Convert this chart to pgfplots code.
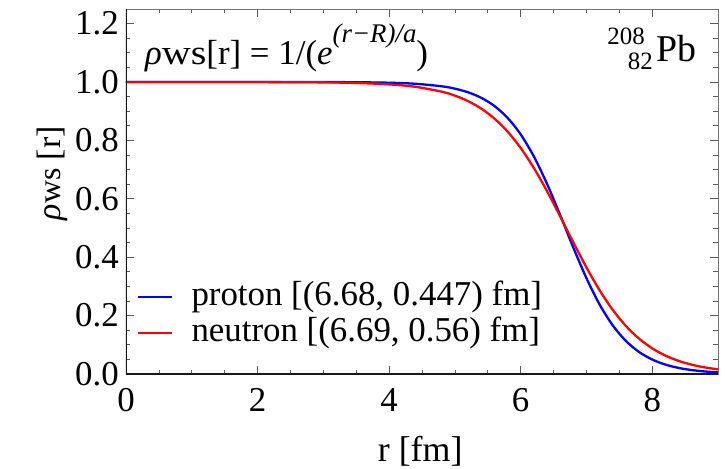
\documentclass[border=0pt]{standalone}
\usepackage{fontspec}
\setmainfont{Liberation Serif}
\usepackage{pgfplots}
\pgfplotsset{compat=1.18}
\usepackage{pgfplotstable}

\pgfplotstableread{
r rho
0.0 1.00000
1.0 1.00000
2.0 0.99997
3.0 0.99973
3.5 0.99919
4.0 0.99752
4.4 0.99395
4.8 0.98531
5.0 0.97722
5.2 0.96480
5.4 0.94602
5.6 0.91806
5.8 0.87748
6.0 0.82073
6.2 0.74533
6.4 0.65166
6.6 0.54463
6.8 0.43329
7.0 0.32830
7.2 0.23806
7.4 0.16648
7.6 0.11323
7.8 0.07547
8.0 0.04959
8.2 0.03228
8.4 0.02088
8.6 0.01345
8.8 0.00864
9.0 0.00554
}\proton

\pgfplotstableread{
r rho
0.0 0.99999
1.0 0.99996
2.0 0.99977
3.0 0.99863
3.5 0.99665
4.0 0.99187
4.4 0.98352
4.8 0.96691
5.0 0.95338
5.2 0.93467
5.4 0.90917
5.6 0.87505
5.8 0.83052
6.0 0.77419
6.2 0.70579
6.4 0.62665
6.6 0.54009
6.8 0.45105
7.0 0.36504
7.2 0.28685
7.4 0.21962
7.6 0.16452
7.8 0.12109
8.0 0.08792
8.2 0.06318
8.4 0.04506
8.6 0.03196
8.8 0.02258
9.0 0.01591
}\neutron

\begin{document}
\begin{tikzpicture}
\begin{axis}[
  scale only axis, width=592bp, height=365bp,
  xmin=0, xmax=9, ymin=0, ymax=1.25,
  xtick={0,2,4,6,8}, ytick={0,0.2,0.4,0.6,0.8,1.0,1.2},
  minor x tick num=3, minor y tick num=3,
  tick align=inside, major tick length=8bp, minor tick length=4.5bp,
  every tick/.style={black!65, line width=0.7bp},
  axis line style={black!55, line width=0.8bp},
  /pgf/number format/assume math mode=true,
  tick label style={font=\fontsize{35}{35}\selectfont, inner sep=0pt},
  yticklabel style={/pgf/number format/fixed, /pgf/number format/fixed zerofill, /pgf/number format/precision=1, xshift=-7bp},
  xticklabel style={yshift=-14bp},
  xlabel={r [fm]},
  xlabel style={at={(rel axis cs:0.497,-0.24)}, anchor=base, font=\fontsize{36}{36}\selectfont, inner sep=0pt},
  ylabel={{\itshape ρ}{\fontsize{32}{32}\selectfont ws} [r]},
  ylabel style={at={(rel axis cs:-0.11,0.55)}, anchor=base, font=\fontsize{34}{34}\selectfont, inner sep=0pt},
  legend style={draw=none, fill=none, inner sep=0pt, at={(rel axis cs:0.0186,0.26)}, anchor=north west,
    font=\fontsize{35}{35}\selectfont,
    nodes={text height=24bp, text depth=8bp, inner ysep=2bp, inner xsep=0pt}},
  legend cell align=left,
  legend image code/.code={\draw[#1] (0bp,0bp) -- (34bp,0bp); \path (52bp,0bp);},
]
\addplot[blue, line width=2.3bp, smooth] table[x=r, y=rho] {\proton};
\addlegendentry{proton [(6.68, 0.447) fm]}
\addplot[red, line width=2.3bp, smooth] table[x=r, y=rho] {\neutron};
\addlegendentry{neutron [(6.69, 0.56) fm]}
\draw[black!90, line width=1.8bp] (rel axis cs:0,1) -- (rel axis cs:0,0) -- (rel axis cs:1,0);
\node[anchor=base west, inner sep=0pt, font=\fontsize{35}{35}\selectfont] at (rel axis cs:0.032,0.8466)
  {{\itshape ρ}\scalebox{1.15}[1]{ws}[r] = 1/({\itshape e}\raisebox{0.65em}{\fontsize{27}{27}\selectfont\itshape (r−R)/a})};
\node[anchor=base east, inner sep=0pt, font=\fontsize{25}{25}\selectfont] at (rel axis cs:0.8767,0.9014) {208};
\node[anchor=base east, inner sep=0pt, font=\fontsize{25}{25}\selectfont] at (rel axis cs:0.8902,0.8329) {82};
\node[anchor=base west, inner sep=0pt, font=\fontsize{38}{38}\selectfont] at (rel axis cs:0.8953,0.8548) {Pb};
\end{axis}
\path (current axis.south west) ++(-126bp,-95bp) rectangle ++(725bp,469bp);
\end{tikzpicture}
\end{document}
